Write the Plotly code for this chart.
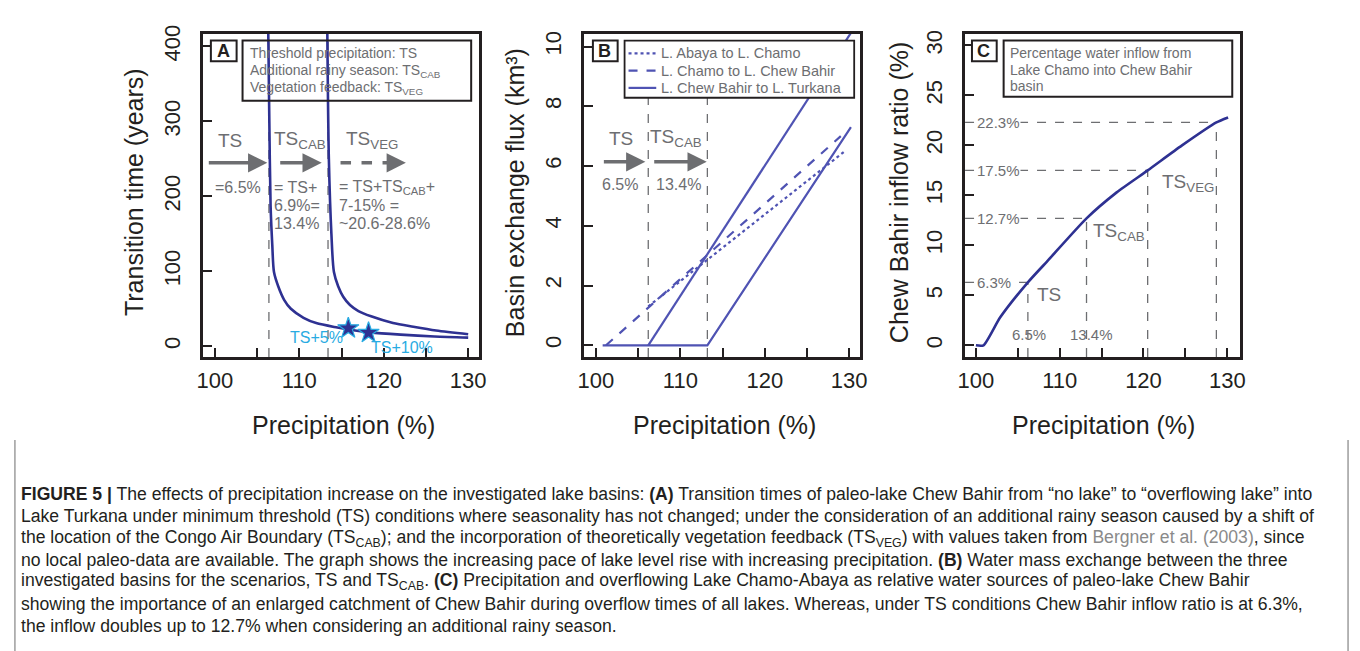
import plotly.graph_objects as go

W, H = 1360, 651

# ---------------- Panel A data ----------------
a_ts_precip = [106.3, 106.45, 106.6, 106.8, 107.0, 107.5, 108.2, 109.0, 110.5, 112.0, 114.5, 116.0, 118.4, 122.0, 126.0, 130.0]
a_ts_years = [440, 300, 187, 135, 99, 80, 62, 50, 38, 31, 25, 22, 18.5, 15.5, 13, 11.5]
a_cab_precip = [113.3, 113.5, 113.8, 114.1, 114.6, 115.2, 116.0, 117.0, 118.5, 121.1, 123.5, 126.2, 130.0]
a_cab_years = [440, 250, 150, 99, 80, 66, 55, 47, 40, 31, 26, 21, 16]
a_star_precip = [115.8, 118.2]
a_star_years = [24, 18]
a_star_labels = ["TS+5%", "TS+10%"]
a_thresholds = [106.4, 113.4]

# ---------------- Panel B data ----------------
b_abaya_precip = [106.2, 129.5]
b_abaya_flux = [1.3, 6.5]
b_chamo_precip = [101.2, 129.0]
b_chamo_flux = [0.0, 7.0]
b_turkana_ts_precip = [100.8, 113.2, 130.2]
b_turkana_ts_flux = [0.0, 0.0, 7.3]
b_turkana_cab_precip = [106.2, 130.3]
b_turkana_cab_flux = [0.0, 10.5]
b_thresholds = [106.2, 113.2]
b_legend_labels = ["L. Abaya to L. Chamo", "L. Chamo to L. Chew Bahir", "L. Chew Bahir to L. Turkana"]

# ---------------- Panel C data ----------------
c_precip = [100.0, 100.9, 102.9, 106.2, 108.5, 113.2, 116.8, 120.5, 124.6, 128.7, 130.1]
c_ratio = [0.0, 0.0, 2.8, 6.3, 8.4, 12.7, 15.3, 17.5, 20.0, 22.3, 22.8]
c_mark_precip = [106.2, 113.2, 120.5, 128.7]
c_mark_ratio = [6.3, 12.7, 17.5, 22.3]
c_mark_labels = ["6.3%", "12.7%", "17.5%", "22.3%"]

x_ticks = [100, 105, 110, 115, 120, 125, 130]
x_ticktext = ["100", "", "110", "", "120", "", "130"]

DARK = "#231f20"
GRAY = "#6d6e71"
BLUE = "#2e3192"
BLUE_B = "#4f53b3"
LBLUE = "#29abe2"
FONT = "Liberation Sans, Arial, sans-serif"

A_XR = [98.59, 131.29]; A_YR = [-14.5, 417.1]
B_XR = [98.59, 131.29]; B_YR = [-0.396, 10.43]
C_XR = [98.70, 131.54]; C_YR = [-1.18, 31.18]

fig = go.Figure()

# Panel A traces
fig.add_trace(go.Scatter(x=a_ts_precip, y=a_ts_years, mode="lines", line=dict(color=BLUE, width=2.6, shape="spline", smoothing=0.8),
                         xaxis="x", yaxis="y", showlegend=False, hoverinfo="skip"))
fig.add_trace(go.Scatter(x=a_cab_precip, y=a_cab_years, mode="lines", line=dict(color=BLUE, width=2.6, shape="spline", smoothing=0.8),
                         xaxis="x", yaxis="y", showlegend=False, hoverinfo="skip"))
fig.add_trace(go.Scatter(x=a_star_precip, y=a_star_years, mode="markers",
                         marker=dict(symbol="star", size=16, color=BLUE, line=dict(color=LBLUE, width=1.2)),
                         xaxis="x", yaxis="y", showlegend=False, hoverinfo="skip"))

# Panel B traces
b_dashes = ["dot", "dash", "solid"]
fig.add_trace(go.Scatter(x=b_abaya_precip, y=b_abaya_flux, mode="lines", name=b_legend_labels[0],
                         line=dict(color=BLUE_B, width=2.2, dash="dot"), xaxis="x2", yaxis="y2", showlegend=False))
fig.add_trace(go.Scatter(x=b_chamo_precip, y=b_chamo_flux, mode="lines", name=b_legend_labels[1],
                         line=dict(color=BLUE_B, width=2.2, dash="dash"), xaxis="x2", yaxis="y2", showlegend=False))
fig.add_trace(go.Scatter(x=b_turkana_ts_precip, y=b_turkana_ts_flux, mode="lines", name=b_legend_labels[2],
                         line=dict(color=BLUE_B, width=2.2), xaxis="x2", yaxis="y2", showlegend=False))
fig.add_trace(go.Scatter(x=b_turkana_cab_precip, y=b_turkana_cab_flux, mode="lines", showlegend=False,
                         line=dict(color=BLUE_B, width=2.2), xaxis="x2", yaxis="y2"))

# Panel C guide lines and curve
for px, py in zip(c_mark_precip, c_mark_ratio):
    fig.add_trace(go.Scatter(x=[px, px], y=[C_YR[0], py], mode="lines", line=dict(color=GRAY, width=1.3, dash="dash"),
                             xaxis="x3", yaxis="y3", showlegend=False, hoverinfo="skip"))
    fig.add_trace(go.Scatter(x=[C_XR[0], px], y=[py, py], mode="lines", line=dict(color=GRAY, width=1.3, dash="dash"),
                             xaxis="x3", yaxis="y3", showlegend=False, hoverinfo="skip"))
fig.add_trace(go.Scatter(x=c_precip, y=c_ratio, mode="lines", line=dict(color=BLUE, width=2.6, shape="spline", smoothing=0.6),
                         xaxis="x3", yaxis="y3", showlegend=False, hoverinfo="skip"))

shapes = []
for t in a_thresholds:
    shapes.append(dict(type="line", xref="x", yref="y domain", x0=t, x1=t, y0=0, y1=1,
                       line=dict(color=GRAY, width=1.3, dash="dash"), layer="below"))
for t in b_thresholds:
    shapes.append(dict(type="line", xref="x2", yref="y2 domain", x0=t, x1=t, y0=0, y1=1,
                       line=dict(color=GRAY, width=1.3, dash="dash"), layer="below"))


def px2x(px):
    return px / W


def py2y(py):
    return 1 - py / H


def box(x0, y0, x1, y1, width=2, fill="rgba(0,0,0,0)"):
    shapes.append(dict(type="rect", xref="paper", yref="paper", x0=px2x(x0), x1=px2x(x1), y0=py2y(y1), y1=py2y(y0),
                       line=dict(color=DARK, width=width), fillcolor=fill, layer="above"))


# Panel letter boxes and text boxes
box(206, 32, 232, 53, fill="white")
box(238, 32, 469, 93)
box(592, 32, 617, 53, fill="white")
box(624, 32, 856, 90, width=1.8, fill="white")
box(975, 32, 1000, 53, fill="white")
box(1007, 32, 1238, 89, fill="white")

# legend samples for panel B
for i, dsh in enumerate(b_dashes):
    yy = 45 + i * 17.5
    shapes.append(dict(type="line", xref="paper", yref="paper", x0=px2x(628), x1=px2x(656), y0=py2y(yy), y1=py2y(yy),
                       line=dict(color=BLUE_B, width=2.2, dash=dsh), layer="above"))

# caption side lines
shapes.append(dict(type="line", xref="paper", yref="paper", x0=px2x(8), x1=px2x(8), y0=0, y1=py2y(437),
                   line=dict(color="#9d9d9d", width=1.5)))
shapes.append(dict(type="line", xref="paper", yref="paper", x0=px2x(1355), x1=px2x(1355), y0=0, y1=py2y(437),
                   line=dict(color="#9d9d9d", width=1.5)))

# dashed arrow shaft (panel A, TS_VEG)
shapes.append(dict(type="line", xref="paper", yref="paper", x0=px2x(337), x1=px2x(392), y0=py2y(156), y1=py2y(156),
                   line=dict(color=GRAY, width=3.5, dash="dash")))

ann = []


def text(x, y, s, size, color=GRAY, xref="paper", yref="paper", xanchor="center", yanchor="middle", bold=False, bg=None):
    if xref == "paper":
        x = px2x(x)
    if yref == "paper":
        y = py2y(y)
    d = dict(x=x, y=y, xref=xref, yref=yref, text=("<b>%s</b>" % s if bold else s), showarrow=False,
             font=dict(size=size, color=color, family=FONT), xanchor=xanchor, yanchor=yanchor, align="left",
             borderpad=0)
    if bg:
        d["bgcolor"] = bg
    ann.append(d)


def arrow(x0, x1, y):
    ann.append(dict(x=px2x(x1), y=py2y(y), ax=x0 - x1, ay=0, xref="paper", yref="paper", axref="pixel", ayref="pixel",
                    text="", showarrow=True, arrowhead=2, arrowsize=1.1, arrowwidth=3.5, arrowcolor=GRAY))


# Panel A texts
text(219, 43, "A", 18, color=DARK, bold=True)
for i, s in enumerate(["Threshold precipitation: TS", "Additional rainy season: TS<sub>CAB</sub>",
                       "Vegetation feedback: TS<sub>VEG</sub>"]):
    text(245, 45 + i * 17.5, s, 14, xanchor="left")
text(225, 133, "TS", 19)
text(269, 133, "TS<sub>CAB</sub>", 19, xanchor="left")
text(342, 133, "TS<sub>VEG</sub>", 19, xanchor="left")
arrow(203, 263, 156)
arrow(275, 318, 156)
arrow(390, 403, 156)
text(233, 181, "=6.5%", 16)
for i, s in enumerate(["= TS+", "6.9%=", "13.4%"]):
    text(269, 181 + i * 18.5, s, 16, xanchor="left")
for i, s in enumerate(["= TS+TS<sub>CAB</sub>+", "7-15% =", "~20.6-28.6%"]):
    text(334, 181 + i * 18.5, s, 16, xanchor="left")
text(a_star_precip[0] - 0.5, a_star_years[0] - 12, a_star_labels[0], 16, color=LBLUE, xref="x", yref="y", xanchor="right")
text(a_star_precip[1] + 0.2, a_star_years[1] - 20, a_star_labels[1], 16, color=LBLUE, xref="x", yref="y", xanchor="left")

# Panel B texts
text(604, 43, "B", 18, color=DARK, bold=True)
for i, s in enumerate(b_legend_labels):
    text(660, 45 + i * 17.5, s, 14.5, xanchor="left")
text(620, 131, "TS", 19)
text(649, 131, "TS<sub>CAB</sub>", 19, xanchor="left")
arrow(602, 645, 155)
arrow(653, 707, 155)
text(619, 178, "6.5%", 16)
text(678, 178, "13.4%", 16)

# Panel C texts
text(987, 43, "C", 18, color=DARK, bold=True)
for i, s in enumerate(["Percentage water inflow from", "Lake Chamo into Chew Bahir", "basin"]):
    text(1012, 45 + i * 16.5, s, 14, xanchor="left")
for px, py, lab in zip(c_mark_precip, c_mark_ratio, c_mark_labels):
    text(100.0, py, lab, 15, xref="x3", yref="y3", xanchor="left", bg="white")
text(1040, 289, "TS", 19, xanchor="left")
text(1096, 226, "TS<sub>CAB</sub>", 19, xanchor="left")
text(1166, 176, "TS<sub>VEG</sub>", 19, xanchor="left")
text(1033, 330, "6.5%", 15)
text(1096, 330, "13.4%", 15)

# Axis titles
for cx, t in [(129, "Transition time (years)"), (514, "Basin exchange flux (km³)"), (902, "Chew Bahir inflow ratio (%)")]:
    ann.append(dict(x=px2x(cx), y=py2y(186), xref="paper", yref="paper", text=t, textangle=-90, showarrow=False,
                    font=dict(size=25, color=DARK, family=FONT), xanchor="center", yanchor="middle"))
for cx in [340, 725, 1108]:
    text(cx, 422, "Precipitation (%)", 25, color=DARK)

# Caption
cap = [
    "<b>FIGURE 5 |</b> The effects of precipitation increase on the investigated lake basins: <b>(A)</b> Transition times of paleo-lake Chew Bahir from “no lake” to “overflowing lake” into",
    "Lake Turkana under minimum threshold (TS) conditions where seasonality has not changed; under the consideration of an additional rainy season caused by a shift of",
    "the location of the Congo Air Boundary (TS<sub>CAB</sub>); and the incorporation of theoretically vegetation feedback (TS<sub>VEG</sub>) with values taken from <span style='color:#8a8a8a'>Bergner et al. (2003)</span>, since",
    "no local paleo-data are available. The graph shows the increasing pace of lake level rise with increasing precipitation. <b>(B)</b> Water mass exchange between the three",
    "investigated basins for the scenarios, TS and TS<sub>CAB</sub>. <b>(C)</b> Precipitation and overflowing Lake Chamo-Abaya as relative water sources of paleo-lake Chew Bahir",
    "showing the importance of an enlarged catchment of Chew Bahir during overflow times of all lakes. Whereas, under TS conditions Chew Bahir inflow ratio is at 6.3%,",
    "the inflow doubles up to 12.7% when considering an additional rainy season.",
]
cap_y = [492, 514, 537, 559, 581, 603, 626]
for s, yy in zip(cap, cap_y):
    text(13, yy, s, 17.6, color=DARK, xanchor="left")


def xaxis(domain, rng, anchor):
    return dict(domain=domain, range=rng, anchor=anchor, tickvals=x_ticks, ticktext=x_ticktext, ticks="inside",
                ticklen=9, tickwidth=2, tickcolor=DARK, showline=True, linewidth=2.5, linecolor=DARK, mirror=True,
                showgrid=False, zeroline=False, tickfont=dict(size=22, color=DARK, family=FONT), ticklabelstandoff=2,
                fixedrange=True)


def yaxis(domain, rng, anchor, vals):
    return dict(domain=domain, range=rng, anchor=anchor, tickvals=vals, ticks="inside", ticklen=9, tickwidth=2,
                tickcolor=DARK, showline=True, linewidth=2.5, linecolor=DARK, mirror=True, showgrid=False,
                zeroline=False, tickangle=-90, tickfont=dict(size=22, color=DARK, family=FONT), ticklabelstandoff=11,
                fixedrange=True)


ydom = [py2y(353), py2y(25)]
fig.update_layout(
    width=W, height=H, margin=dict(l=0, r=0, t=0, b=0), paper_bgcolor="white", plot_bgcolor="white",
    xaxis=xaxis([px2x(198), px2x(477)], A_XR, "y"),
    yaxis=yaxis(ydom, A_YR, "x", [0, 100, 200, 300, 400]),
    xaxis2=xaxis([px2x(583), px2x(862)], B_XR, "y2"),
    yaxis2=yaxis(ydom, B_YR, "x2", [0, 2, 4, 6, 8, 10]),
    xaxis3=xaxis([px2x(968), px2x(1246)], C_XR, "y3"),
    yaxis3=yaxis(ydom, C_YR, "x3", [0, 5, 10, 15, 20, 25, 30]),
    showlegend=False,
    shapes=shapes, annotations=ann,
)

fig.write_html("out.html")
